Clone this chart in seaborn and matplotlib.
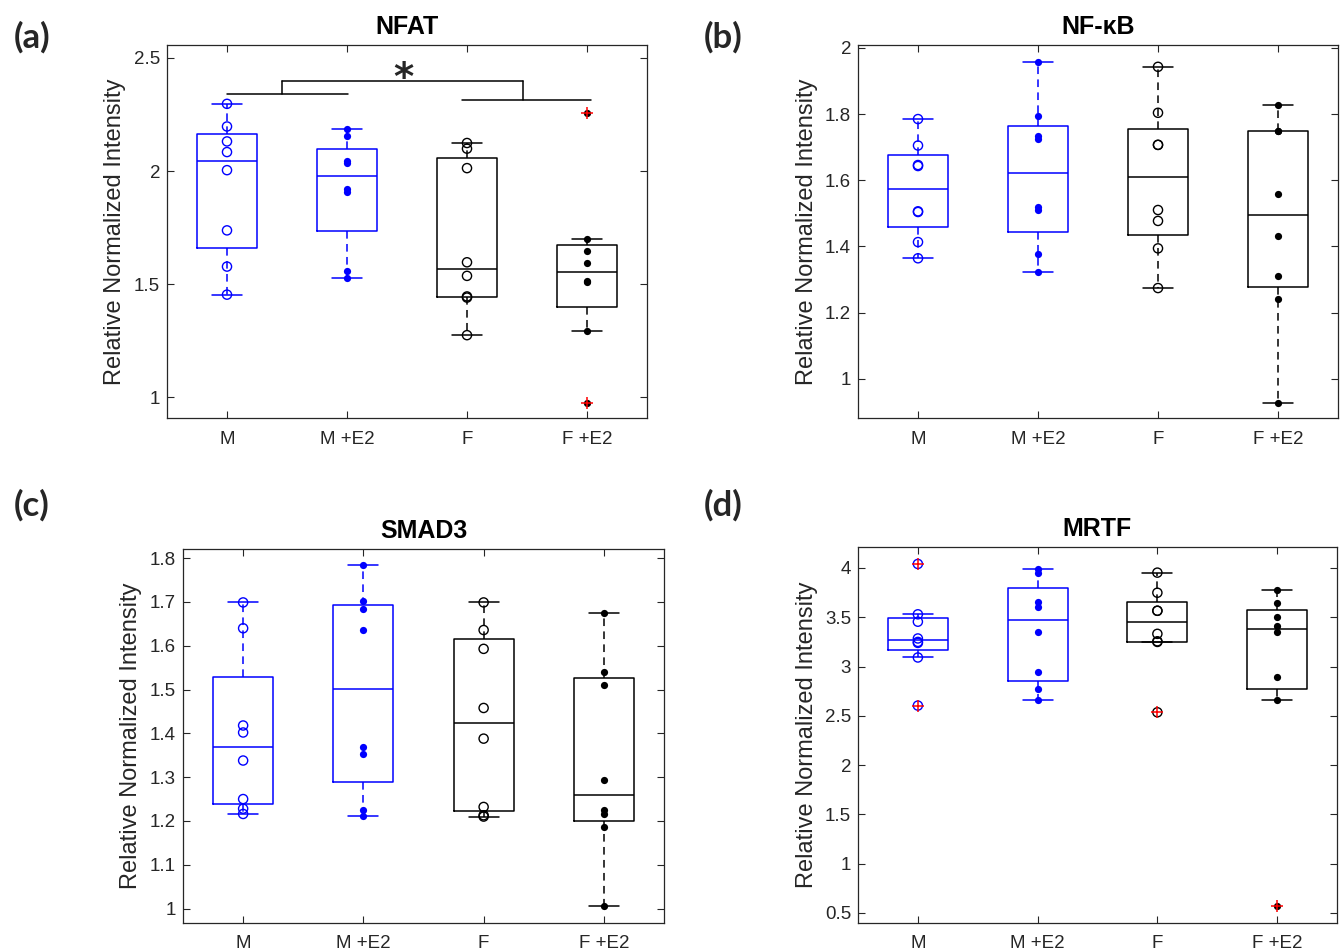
import numpy as np
import pandas as pd
import matplotlib
matplotlib.use("Agg")
import matplotlib.pyplot as plt
import matplotlib.cbook as cbook
import seaborn as sns

# ---------------- data ----------------
groups = ["M", "M +E2", "F", "F +E2"]
group_colors = ["#0000FF", "#0000FF", "#000000", "#000000"]
group_filled = [False, True, False, True]

nfat_m = [2.297, 2.197, 2.131, 2.084, 2.004, 1.738, 1.578, 1.454]
nfat_me2 = [2.184, 2.154, 2.044, 2.034, 1.919, 1.909, 1.559, 1.528]
nfat_f = [2.124, 2.099, 2.013, 1.597, 1.537, 1.446, 1.441, 1.275]
nfat_fe2 = [2.256, 1.699, 1.649, 1.593, 1.516, 1.509, 1.294, 0.974]

nfkb_m = [1.785, 1.705, 1.646, 1.643, 1.506, 1.504, 1.413, 1.364]
nfkb_me2 = [1.959, 1.794, 1.735, 1.726, 1.518, 1.511, 1.377, 1.322]
nfkb_f = [1.943, 1.804, 1.707, 1.707, 1.510, 1.477, 1.394, 1.274]
nfkb_fe2 = [1.829, 1.748, 1.748, 1.558, 1.432, 1.311, 1.242, 0.926]

smad3_m = [1.699, 1.640, 1.418, 1.402, 1.338, 1.250, 1.228, 1.216]
smad3_me2 = [1.785, 1.703, 1.684, 1.635, 1.368, 1.354, 1.225, 1.211]
smad3_f = [1.699, 1.636, 1.593, 1.458, 1.388, 1.232, 1.213, 1.210]
smad3_fe2 = [1.674, 1.541, 1.510, 1.293, 1.226, 1.216, 1.186, 1.005]

mrtf_m = [4.041, 3.530, 3.455, 3.285, 3.250, 3.240, 3.092, 2.604]
mrtf_me2 = [3.986, 3.949, 3.651, 3.600, 3.346, 2.943, 2.773, 2.658]
mrtf_f = [3.953, 3.749, 3.566, 3.566, 3.332, 3.256, 3.250, 2.536]
mrtf_fe2 = [3.780, 3.644, 3.502, 3.416, 3.350, 2.892, 2.661, 0.571]

titles = ["NFAT", "NF-\u03baB", "SMAD3", "MRTF"]
panel_letters = ["(a)", "(b)", "(c)", "(d)"]
yticks_a = [1, 1.5, 2, 2.5]
yticks_b = [1, 1.2, 1.4, 1.6, 1.8, 2]
yticks_c = [1, 1.1, 1.2, 1.3, 1.4, 1.5, 1.6, 1.7, 1.8]
yticks_d = [0.5, 1, 1.5, 2, 2.5, 3, 3.5, 4]
ylims = [(0.909, 2.557), (0.881, 2.009), (0.967, 1.821), (0.398, 4.213)]

# significance bracket in panel (a)
bracket_left_y = 2.340
bracket_right_y = 2.313
bracket_top_y = 2.396
star_y = 2.449

# ---------------- MATLAB-style quartiles for the boxes ----------------
_orig_stats = cbook.boxplot_stats


def matlab_boxplot_stats(X, whis=1.5, bootstrap=None, labels=None, autorange=False):
    out = _orig_stats(X, whis=whis, bootstrap=bootstrap, labels=labels, autorange=autorange)
    if isinstance(X, np.ndarray) and X.ndim == 1:
        X = [X]
    for st, x in zip(out, X):
        x = np.asarray(x, float)
        q1, med, q3 = np.percentile(x, [25, 50, 75], method="hazen")
        iqr = q3 - q1
        lo, hi = q1 - whis * iqr, q3 + whis * iqr
        st.update(q1=q1, med=med, q3=q3, iqr=iqr,
                  whislo=x[x >= lo].min(), whishi=x[x <= hi].max(),
                  fliers=x[(x < lo) | (x > hi)])
    return out


cbook.boxplot_stats = matlab_boxplot_stats

# ---------------- figure ----------------
sns.set_theme(style="white")
plt.rcParams["font.family"] = ["Liberation Sans", "DejaVu Sans"]

W, H = 1344, 952
fig = plt.figure(figsize=(W / 100, H / 100), dpi=100)


def rect(l, r, t, b):
    return [l / W, (H - b) / H, (r - l) / W, (b - t) / H]


rects = [rect(167, 647, 45, 418), rect(858, 1338, 45, 418),
         rect(183, 664, 549, 923), rect(858, 1337, 547, 923)]
label_xy = [(32, 37), (723, 37), (32, 505), (723, 505)]
ylabel_x = [-0.086, -0.083, -0.086, -0.083]

panel_data = [[nfat_m, nfat_me2, nfat_f, nfat_fe2],
              [nfkb_m, nfkb_me2, nfkb_f, nfkb_fe2],
              [smad3_m, smad3_me2, smad3_f, smad3_fe2],
              [mrtf_m, mrtf_me2, mrtf_f, mrtf_fe2]]
panel_yticks = [yticks_a, yticks_b, yticks_c, yticks_d]

axis_col = "#262626"
palette = dict(zip(groups, group_colors))

for i in range(4):
    ax = fig.add_axes(rects[i])
    rows = []
    for g, vals in zip(groups, panel_data[i]):
        for v in vals:
            rows.append((g, v))
    df = pd.DataFrame(rows, columns=["group", "value"])

    sns.boxplot(data=df, x="group", y="value", hue="group", order=groups,
                hue_order=groups, palette=palette, fill=False, width=0.5,
                linewidth=1.1, whis=1.5, legend=False, ax=ax,
                whiskerprops=dict(linestyle=(0, (5, 3.5))),
                capprops=dict(linestyle="-"),
                flierprops=dict(marker="+", markeredgecolor="red",
                                markersize=8.5, markeredgewidth=1.1, zorder=5))

    for g, col, filled in zip(groups, group_colors, group_filled):
        sub = df[df["group"] == g]
        if filled:
            sns.stripplot(data=sub, x="group", y="value", order=groups,
                          jitter=False, color=col, size=5.2, linewidth=0,
                          ax=ax, zorder=4)
        else:
            sns.stripplot(data=sub, x="group", y="value", order=groups,
                          jitter=False, color=col, size=6.6, linewidth=1.0,
                          edgecolor=col, facecolor="none", ax=ax, zorder=4)

    ax.set_xlim(-0.5, 3.5)
    ax.set_ylim(*ylims[i])
    ax.set_yticks(panel_yticks[i])
    ax.set_yticklabels([f"{t:g}" for t in panel_yticks[i]])
    ax.set_xticks(range(len(groups)))
    ax.set_xticklabels(groups)
    ax.set_xlabel("")
    ax.set_ylabel("Relative Normalized Intensity", fontsize=17, color=axis_col)
    ax.yaxis.set_label_coords(ylabel_x[i], 0.5)
    ax.tick_params(axis="both", which="major", direction="in", length=5,
                   width=0.8, color=axis_col, labelcolor=axis_col,
                   labelsize=13.5, bottom=True, left=True, top=True, right=True)
    ax.tick_params(axis="x", pad=9)
    ax.tick_params(axis="y", pad=5)
    for sp in ax.spines.values():
        sp.set_visible(True)
        sp.set_color(axis_col)
        sp.set_linewidth(0.9)
    ax.set_title(titles[i], fontsize=18, fontweight="bold", color="black", pad=8)
    fig.text(label_xy[i][0] / W, 1 - label_xy[i][1] / H, panel_letters[i],
             fontsize=25, fontweight="bold", family=["Lato", "DejaVu Sans"],
             ha="center", va="center")

    if i == 0:
        lk = dict(color="black", lw=1.1, zorder=6)
        ax.plot([0, 1.01], [bracket_left_y, bracket_left_y], **lk)
        ax.plot([0.46, 0.46], [bracket_left_y, bracket_top_y], **lk)
        ax.plot([0.46, 2.47], [bracket_top_y, bracket_top_y], **lk)
        ax.plot([2.47, 2.47], [bracket_top_y, bracket_right_y], **lk)
        ax.plot([1.96, 3.03], [bracket_right_y, bracket_right_y], **lk)
        ax.annotate("*", (1.466, star_y), xytext=(0, -15),
                    textcoords="offset points", fontsize=28, fontweight="bold",
                    ha="center", va="baseline", family=["DejaVu Sans"])

fig.savefig("out.png", dpi=100)
